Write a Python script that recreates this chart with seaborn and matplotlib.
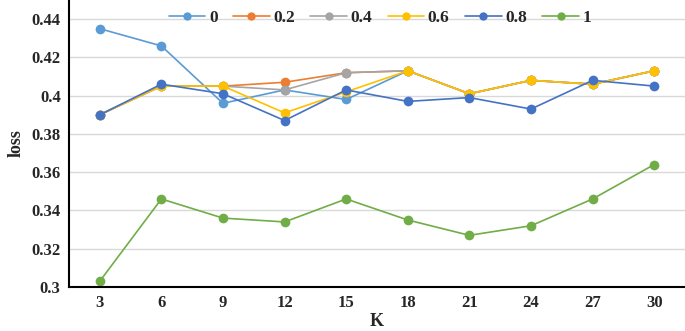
import numpy as np
import pandas as pd
import seaborn as sns
import matplotlib.pyplot as plt

# K values on the x axis
k_values = [3, 6, 9, 12, 15, 18, 21, 24, 27, 30]

# loss for each weight setting
loss_0 = [0.435, 0.426, 0.396, 0.403, 0.398, 0.413, 0.401, 0.408, 0.406, 0.413]
loss_02 = [0.390, 0.405, 0.405, 0.407, 0.412, 0.413, 0.401, 0.408, 0.406, 0.413]
loss_04 = [0.390, 0.405, 0.405, 0.403, 0.412, 0.413, 0.401, 0.408, 0.406, 0.413]
loss_06 = [0.390, 0.405, 0.405, 0.391, 0.402, 0.413, 0.401, 0.408, 0.406, 0.413]
loss_08 = [0.390, 0.406, 0.401, 0.387, 0.403, 0.397, 0.399, 0.393, 0.408, 0.405]
loss_1 = [0.303, 0.346, 0.336, 0.334, 0.346, 0.335, 0.327, 0.332, 0.346, 0.364]

series_names = ['0', '0.2', '0.4', '0.6', '0.8', '1']
series_values = [loss_0, loss_02, loss_04, loss_06, loss_08, loss_1]
colors = ['#5B9BD5', '#ED7D31', '#A5A5A5', '#FFC000', '#4472C4', '#70AD47']

# long-form table for seaborn
df = pd.DataFrame({
    'K': k_values * len(series_names),
    'loss': np.concatenate(series_values),
    'w': np.repeat(series_names, len(k_values)),
})

sns.set_style('white')
plt.rcParams['font.family'] = ['Liberation Serif', 'DejaVu Serif']
plt.rcParams['font.weight'] = 'bold'

fig = plt.figure(figsize=(6.85, 3.31), dpi=100)
ax = fig.add_axes([0.1007, 0.133, 0.8993, 0.867])

sns.lineplot(data=df, x='K', y='loss', hue='w', hue_order=series_names,
             palette=dict(zip(series_names, colors)), marker='o',
             markersize=7, markeredgewidth=0, linewidth=1.2, ax=ax)

ax.set_xlim(1.5, 31.5)
ax.set_ylim(0.3, 0.45)
ax.set_xticks(k_values)
ax.set_yticks(np.arange(0.30, 0.441, 0.02))
ax.set_yticklabels(['0.3', '0.32', '0.34', '0.36', '0.38', '0.4', '0.42', '0.44'])
ax.tick_params(length=0, labelsize=12, pad=6)
for lbl in ax.get_xticklabels() + ax.get_yticklabels():
    lbl.set_fontweight('bold')

ax.grid(axis='y', color='#D9D9D9', linewidth=1)
ax.set_axisbelow(True)
for side in ['top', 'right']:
    ax.spines[side].set_visible(False)
for side in ['left', 'bottom']:
    ax.spines[side].set_color('black')
    ax.spines[side].set_linewidth(1.5)

ax.set_xlabel('K', fontsize=13, fontweight='bold', labelpad=1)
ax.set_ylabel('loss', fontsize=13, fontweight='bold', labelpad=5)

leg = ax.legend(ncol=6, loc='upper center', bbox_to_anchor=(0.505, 1.0), frameon=False,
                prop={'size': 12.5, 'weight': 'bold'}, handlelength=2.1, columnspacing=0.9,
                handletextpad=0.2, borderaxespad=0.15)
for h in leg.legend_handles:
    h.set_markersize(6)

fig.savefig('out.png', dpi=100)
